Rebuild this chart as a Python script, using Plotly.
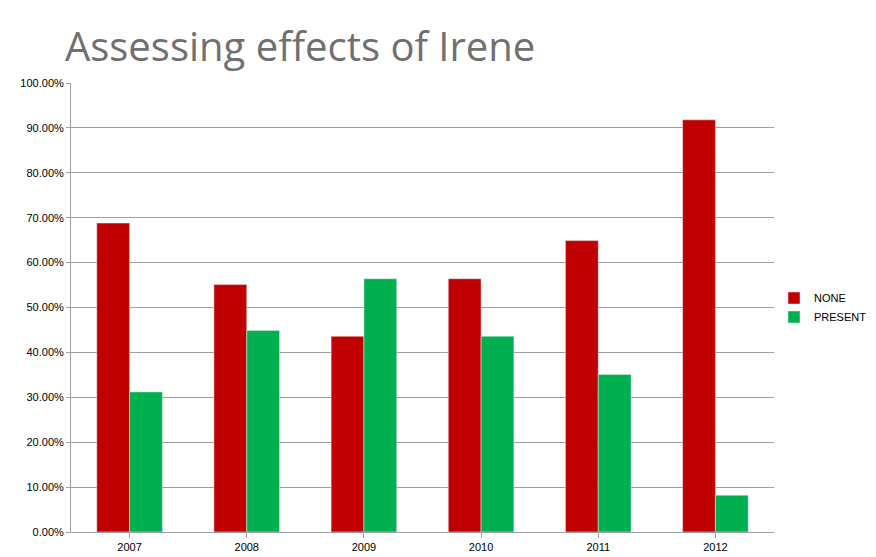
import plotly.graph_objects as go

years = ["2007", "2008", "2009", "2010", "2011", "2012"]
none_pct = [0.688, 0.551, 0.436, 0.564, 0.649, 0.918]
present_pct = [0.312, 0.449, 0.564, 0.436, 0.351, 0.082]

fig = go.Figure()
fig.add_trace(go.Bar(x=years, y=none_pct, name="NONE", marker_color="#c00000"))
fig.add_trace(go.Bar(x=years, y=present_pct, name="PRESENT", marker_color="#00b050"))

fig.update_layout(
    width=876, height=557,
    paper_bgcolor="white", plot_bgcolor="white",
    margin=dict(l=62, r=90, t=75, b=30),
    title=dict(text="Assessing effects of Irene", x=0.065, xanchor="left", y=0.93, yanchor="middle",
               font=dict(family="Open Sans", size=40, color="#707070")),
    bargap=0.44, bargroupgap=0,
    font=dict(family="Liberation Sans", size=11, color="black"),
    legend=dict(x=1.0, y=0.5, yanchor="middle", font=dict(size=11)),
)
fig.update_yaxes(range=[0, 1], dtick=0.1, tickformat=".2%", gridcolor="#a0a0a0",
                 showline=True, linecolor="#a0a0a0", ticks="outside", tickcolor="#a0a0a0", ticklen=4)
fig.update_xaxes(showline=True, linecolor="#a0a0a0", ticks="outside", tickcolor="#a0a0a0")

fig.write_html("out.html")
